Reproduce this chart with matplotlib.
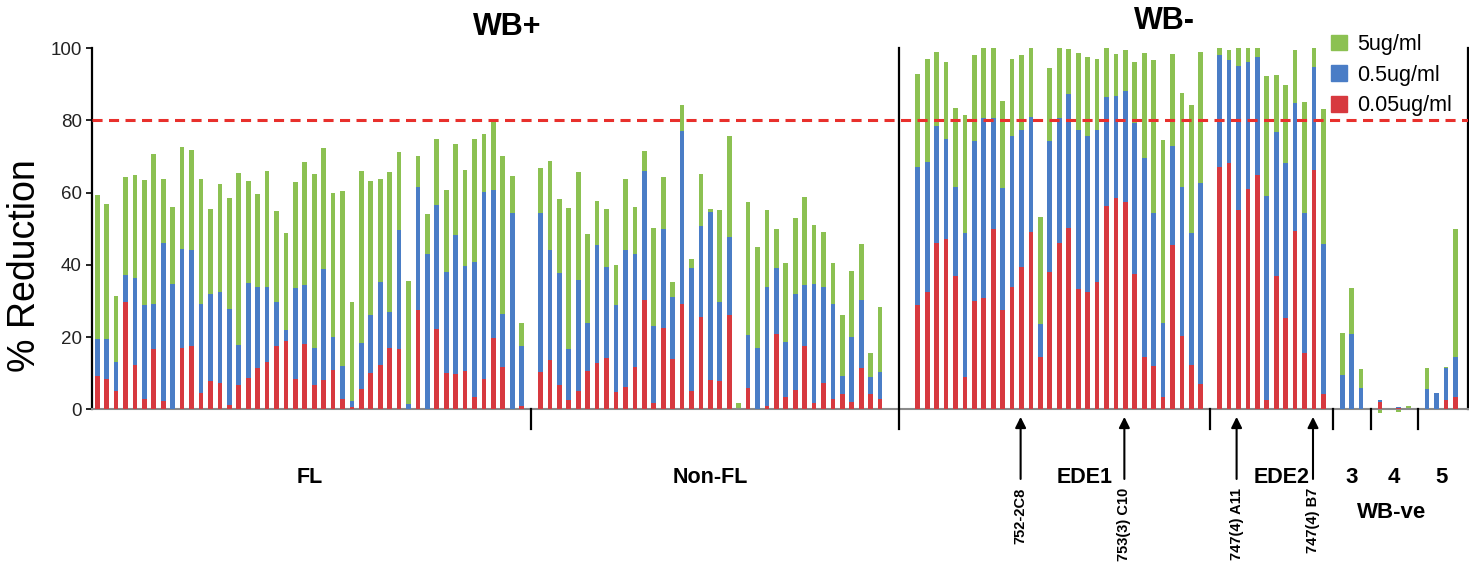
import matplotlib.pyplot as plt
from matplotlib.patches import Patch

plt.rcParams['font.family'] = ['Liberation Sans', 'DejaVu Sans']

# % reduction at 5, 0.5 and 0.05 ug/ml for each antibody, by group
fl_5 = [59.3, 56.9, 31.5, 64.4, 65.0, 63.5, 70.8, 63.7, 55.9, 72.6, 71.9, 63.8,
        55.6, 62.4, 58.6, 65.4, 63.2, 59.5, 65.9, 54.8, 48.9, 62.9, 68.5, 65.3,
        72.4, 59.9, 60.6, 29.8, 66.1, 63.1, 63.8, 65.6, 71.2, 35.6, 70.3, 54.2,
        74.9, 60.7, 73.6, 66.3, 74.8, 76.2, 80.4, 70.2, 64.7, 23.8]
fl_05 = [19.4, 19.6, 13.2, 37.2, 36.4, 28.8, 29.2, 46.1, 34.6, 44.4, 44.2, 29.2,
         31.8, 32.6, 27.8, 17.7, 34.9, 33.9, 33.9, 29.7, 22.0, 33.5, 34.3, 16.9,
         38.9, 20.0, 12.1, 2.4, 18.4, 26.0, 35.3, 27.0, 49.6, 1.6, 61.5, 43.0,
         56.7, 38.1, 48.4, 39.6, 40.7, 60.3, 60.8, 26.5, 54.3, 17.6]
fl_005 = [9.2, 8.3, 5.1, 29.7, 12.2, 2.8, 16.6, 2.3, 0.0, 17.0, 17.4, 4.6,
          7.8, 7.4, 1.1, 6.7, 8.8, 11.5, 13.2, 17.5, 18.8, 8.3, 18.2, 6.8,
          8.1, 10.8, 2.9, 0.6, 5.5, 10.0, 12.3, 17.1, 16.8, 0.0, 27.4, 0.0,
          22.3, 10.0, 9.7, 10.6, 3.5, 8.3, 19.8, 11.7, 0.0, 0.9]

nonfl_5 = [66.8, 68.9, 58.2, 55.8, 65.6, 48.6, 57.6, 55.5, 39.9, 63.8, 56.0, 71.5,
           50.3, 64.4, 35.3, 84.3, 41.5, 65.3, 55.6, 55.1, 75.6, 1.8, 57.3, 44.9,
           55.1, 50.0, 40.6, 53.0, 58.8, 51.1, 49.0, 40.5, 26.1, 38.2, 45.7, 15.7,
           28.4]
nonfl_05 = [54.3, 44.2, 37.8, 16.6, 35.8, 23.8, 45.5, 39.3, 28.8, 44.2, 43.1, 66.1,
            23.1, 49.9, 31.2, 77.2, 39.1, 50.7, 54.7, 29.7, 47.6, 0.0, 20.7, 17.1,
            33.9, 39.0, 18.6, 32.0, 34.3, 34.6, 33.9, 29.2, 9.2, 20.0, 30.3, 8.9,
            10.4]
nonfl_005 = [10.4, 13.6, 6.7, 2.6, 5.1, 10.6, 12.7, 14.3, 4.8, 6.2, 11.7, 30.3,
             1.7, 22.6, 14.0, 29.2, 5.2, 25.5, 8.1, 7.8, 26.1, 0.0, 6.0, 0.0,
             0.9, 20.8, 3.5, 5.3, 17.6, 1.8, 7.2, 2.9, 4.1, 2.1, 11.5, 4.1,
             2.8]

ede1_5 = [92.8, 97.0, 99.1, 96.1, 83.4, 81.6, 98.1, 100, 100, 85.3, 97.0, 98.0,
          100, 53.4, 94.5, 100, 99.8, 98.8, 97.7, 97.0, 100, 98.4, 99.5, 96.2,
          98.6, 96.8, 74.5, 98.3, 87.7, 84.4, 99.1]
ede1_05 = [67.0, 68.4, 78.5, 74.9, 61.5, 48.7, 74.2, 80.6, 80.6, 61.3, 75.6, 77.4,
           80.9, 23.5, 74.2, 80.6, 87.4, 77.4, 75.8, 77.4, 86.5, 86.8, 88.3, 79.3,
           69.6, 54.4, 23.8, 72.8, 61.5, 48.7, 62.7]
ede1_005 = [29.0, 32.4, 46.1, 47.2, 37.0, 9.0, 30.1, 30.7, 50.0, 27.5, 33.9, 39.4,
            49.2, 14.6, 38.0, 46.0, 50.2, 33.4, 32.5, 35.3, 56.2, 58.5, 57.3, 37.5,
            14.6, 12.0, 3.4, 45.6, 20.3, 12.2, 6.9]

ede2_5 = [100, 99.5, 100, 100, 100, 92.2, 92.6, 89.8, 99.5, 85.2, 100, 83.1]
ede2_05 = [98.0, 96.8, 95.1, 96.3, 97.5, 59.0, 76.7, 68.3, 84.8, 54.3, 94.9, 45.7]
ede2_005 = [67.0, 68.2, 55.3, 61.1, 64.8, 2.5, 36.8, 25.2, 49.5, 15.7, 66.3, 4.2]

g3_5 = [21.2, 33.5, 11.1]
g3_05 = [9.5, 20.8, 5.8]
g3_005 = [0.0, 0.0, 0.0]

g4_5 = [-1.0, 0.0, -0.8, 0.8]
g4_05 = [2.6, 0.0, 0.6, 0.0]
g4_005 = [1.9, 0.0, 0.4, 0.0]

g5_5 = [11.4, 4.6, 11.6, 50.0]
g5_05 = [5.5, 4.4, 11.5, 14.4]
g5_005 = [0.0, 0.0, 2.6, 3.3]

groups = [
    ('FL', fl_5, fl_05, fl_005),
    ('Non-FL', nonfl_5, nonfl_05, nonfl_005),
    ('EDE1', ede1_5, ede1_05, ede1_005),
    ('EDE2', ede2_5, ede2_05, ede2_005),
    ('3', g3_5, g3_05, g3_005),
    ('4', g4_5, g4_05, g4_005),
    ('5', g5_5, g5_05, g5_005),
]
gaps = [0, 1, 3, 1, 1, 1, 1]  # empty slots before each group

arrow_labels = ['752-2C8', '753(3) C10', '747(4) A11', '747(4) B7']
arrow_x = [97.9, 108.9, 120.8, 128.9]

green = '#8cc152'
blue = '#4a7dc6'
red = '#d7393f'

fig = plt.figure(figsize=(14.69, 5.64), dpi=100)
ax = fig.add_axes([0.0628, 0.2743, 0.9363, 0.6401])

pos = 0
xs, c5, c05, c005 = [], [], [], []
spans = []
for (name, v5, v05, v005), gap in zip(groups, gaps):
    pos += gap
    start = pos
    for a, b, c in zip(v5, v05, v005):
        xs.append(pos)
        c5.append(a)
        c05.append(b)
        c005.append(c)
        pos += 1
    spans.append((name, start, pos - 1))

ax.bar(xs, c5, width=0.5, color=green, clip_on=False, zorder=2)
ax.bar(xs, c05, width=0.5, color=blue, clip_on=False, zorder=3)
ax.bar(xs, c005, width=0.5, color=red, clip_on=False, zorder=4)

ax.axhline(80, color='#e8302c', lw=2.2, dashes=(3.3, 2.1), zorder=5)

ax.set_xlim(-0.53, 145.3)
ax.set_ylim(0, 100)
ax.set_yticks(range(0, 101, 20))
ax.tick_params(axis='y', labelsize=13.5, length=4, width=1.2, labelcolor='#222222')
ax.set_xticks([])
ax.set_ylabel('% Reduction', fontsize=27)
ax.yaxis.set_label_coords(-0.036, 0.397)
for s in ['left', 'right']:
    ax.spines[s].set_linewidth(1.6)
ax.spines['top'].set_visible(False)
ax.spines['bottom'].set_color('#8a8a8a')
ax.spines['bottom'].set_linewidth(1.5)

# group boundary ticks below the axis, and the WB+/WB- divider
for (n1, s1, e1), (n2, s2, e2) in zip(spans[:-1], spans[1:]):
    mid = (e1 + s2) / 2
    top = 100 if n2 == 'EDE1' else 0
    ax.plot([mid, mid], [-5.5, top], color='black', lw=1.6, clip_on=False, zorder=6)

for name, s, e in spans:
    cx = (s + e) / 2
    if name == 'EDE1':
        cx = 104.7
    if name == 'EDE2':
        cx = 125.6
    size = 16 if name in ('3', '4', '5') else 15.5
    ax.text(cx, -19.0, name, ha='center', va='center', fontsize=size, fontweight='bold')
ax.text(137.2, -28.6, 'WB-ve', ha='center', va='center', fontsize=16, fontweight='bold')

ax.text(43.5, 105.9, 'WB+', ha='center', va='center', fontsize=22, fontweight='bold')
ax.text(113.1, 107.5, 'WB-', ha='center', va='center', fontsize=22, fontweight='bold')

for lab, x in zip(arrow_labels, arrow_x):
    ax.annotate('', xy=(x, -2.1), xytext=(x, -19.3), xycoords='data',
                arrowprops=dict(arrowstyle='-|>', lw=1.5, color='black',
                                mutation_scale=16, shrinkA=0, shrinkB=0),
                annotation_clip=False)
    ax.text(x, -21.8, lab, rotation=90, ha='center', va='top', fontsize=10.5,
            fontweight='bold')

handles = [Patch(color=green), Patch(color=blue), Patch(color=red)]
fig.legend(handles, ['5ug/ml', '0.5ug/ml', '0.05ug/ml'], loc='upper left',
           bbox_to_anchor=(1331 / 1469, 1 - 34 / 564), frameon=False, fontsize=15.5,
           handlelength=0.72, handleheight=0.72, handletextpad=0.5, labelspacing=0.45,
           borderpad=0, borderaxespad=0)

fig.savefig('out.png', dpi=100)
